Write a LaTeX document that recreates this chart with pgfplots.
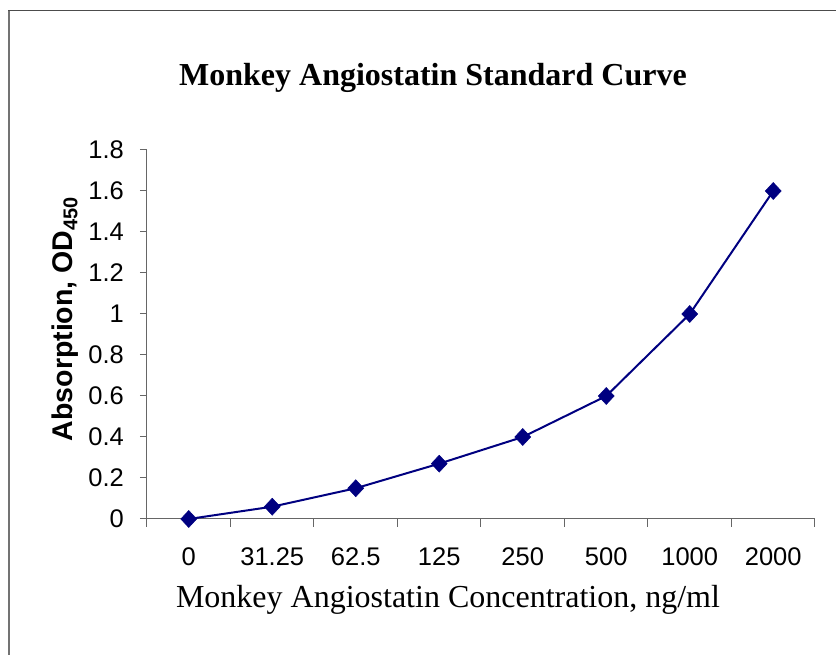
\documentclass[border=0pt]{standalone}
\usepackage{pgfplots}
\pgfplotsset{compat=1.18}
\usepackage{fontspec}
\setmainfont{Liberation Serif}
\setsansfont{Liberation Sans}
\definecolor{navyc}{RGB}{0,0,128}
\begin{document}
\begin{tikzpicture}
\useasboundingbox (0,0) rectangle (836pt,655pt);
\draw[black!55, line width=2pt] (8.5pt,0pt) -- (8.5pt,644pt);
\draw[black!70, line width=1pt] (8pt,644pt) -- (836pt,644pt);
\begin{axis}[
  at={(147pt,136pt)}, anchor=south west,
  scale only axis, width=668pt, height=369pt,
  xmin=-0.5, xmax=7.5, ymin=0, ymax=1.8,
  axis x line=bottom, axis y line=left,
  axis line style={-, black!60, line width=1pt},
  xtick={0,1,2,3,4,5,6,7},
  xticklabels={0,31.25,62.5,125,250,500,1000,2000},
  minor xtick={-0.5,0.5,1.5,2.5,3.5,4.5,5.5,6.5,7.5},
  major x tick style={draw=none},
  minor x tick style={black!60, line width=1pt},
  minor tick length=8pt,
  ytick={0,0.2,...,1.8},
  y tick style={black!60, line width=1pt},
  major tick length=7pt,
  tick align=outside,
  /pgf/number format/assume math mode=true,
  yticklabel={\pgfmathprintnumber[fixed,precision=1]{\tick}},
  tick label style={font=\sffamily\fontsize{25.5}{30}\selectfont, inner sep=0pt},
  xticklabel style={anchor=base, yshift=-40pt},
  yticklabel style={anchor=east, xshift=-16pt},
  clip=false,
]
\addplot[navyc, line width=2pt, mark=diamond*, mark size=8.5pt, mark options={fill=navyc, draw=navyc, line width=0.5pt, xscale=1.25}]
coordinates {(0,0) (1,0.06) (2,0.15) (3,0.27) (4,0.4) (5,0.6) (6,1.0) (7,1.6)};
\end{axis}
\node[anchor=base, font=\bfseries\fontsize{32}{38}\selectfont] at (433pt,569pt) {Monkey Angiostatin Standard Curve};
\node[anchor=base, font=\fontsize{32}{38}\selectfont] at (448pt,47pt) {Monkey Angiostatin Concentration, ng/ml};
\node[anchor=base, rotate=90, font=\sffamily\bfseries\fontsize{28.5}{34}\selectfont] at (72pt,336pt) {Absorption, OD\textsubscript{450}};
\end{tikzpicture}
\end{document}
